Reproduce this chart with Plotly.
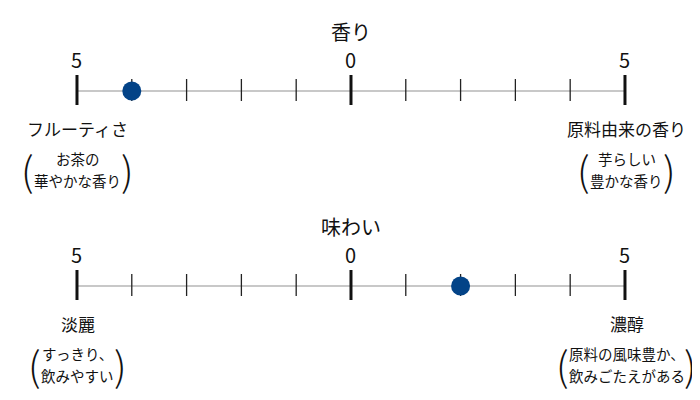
import plotly.graph_objects as go

# data
scales = ["香り", "味わい"]
scores = [-4, 2]
left_labels = ["フルーティさ", "淡麗"]
left_notes = [["お茶の", "華やかな香り"], ["すっきり、", "飲みやすい"]]
right_labels = ["原料由来の香り", "濃醇"]
right_notes = [["芋らしい", "豊かな香り"], ["原料の風味豊か、", "飲みごたえがある"]]
tick_vals = [-5, -4, -3, -2, -1, 0, 1, 2, 3, 4, 5]
major_vals = [-5, 0, 5]
major_text = ["5", "0", "5"]

FONT = "Noto Sans CJK JP"
row_y = [91, 286]
DOT = "#034387"

fig = go.Figure()
ann = []

for i, name in enumerate(scales):
    y0 = row_y[i]
    # base line
    fig.add_trace(go.Scatter(x=[tick_vals[0], tick_vals[-1]], y=[y0, y0], mode="lines",
                             line=dict(color="#c8c8c8", width=2), hoverinfo="skip"))
    # minor ticks
    mx, my = [], []
    for v in tick_vals:
        if v in major_vals:
            continue
        mx += [v, v, None]
        my += [y0 - 12, y0 + 10, None]
    fig.add_trace(go.Scatter(x=mx, y=my, mode="lines",
                             line=dict(color="#222", width=1.3), hoverinfo="skip"))
    # major ticks
    Mx, My = [], []
    for v in major_vals:
        Mx += [v, v, None]
        My += [y0 - 16, y0 + 14, None]
    fig.add_trace(go.Scatter(x=Mx, y=My, mode="lines",
                             line=dict(color="#111", width=3), hoverinfo="skip"))
    # score
    fig.add_trace(go.Scatter(x=[scores[i]], y=[y0], mode="markers",
                             marker=dict(color=DOT, size=19), hoverinfo="skip"))

    ann.append(dict(x=0, y=y0 - 60, text=name, font=dict(size=20)))
    for v, t in zip(major_vals, major_text):
        ann.append(dict(x=v, y=y0 - 32, text=t, font=dict(size=20)))

    for side, lab, note, sh in ((-5, left_labels[i], left_notes[i], 1),
                                (5, right_labels[i], right_notes[i], 2)):
        ann.append(dict(x=side, y=y0 + 37, text=lab, xshift=sh, font=dict(size=17)))
        ann.append(dict(x=side, y=y0 + 67, text=note[0], xshift=sh, font=dict(size=14.5)))
        ann.append(dict(x=side, y=y0 + 89, text=note[1], xshift=sh, font=dict(size=14.5)))
        half = max(len(note[0]), len(note[1])) * 7 + 8
        for d, p in ((-1, "("), (1, ")")):
            ann.append(dict(x=side, y=y0 + 78, text=p, xshift=sh + d * half,
                            font=dict(size=40, weight=300)))

for a in ann:
    a.setdefault("showarrow", False)
    a["xref"] = "x"
    a["yref"] = "y"
    a["xanchor"] = "center"
    a["yanchor"] = "middle"
    f = a.get("font", {})
    f.setdefault("family", FONT)
    f.setdefault("color", "#111")
    a["font"] = f

# the page body has an 8px margin, so the ranges are shifted by 8px
fig.update_layout(
    width=700, height=400,
    margin=dict(l=0, r=0, t=0, b=0),
    plot_bgcolor="white", paper_bgcolor="white",
    showlegend=False,
    annotations=ann,
    xaxis=dict(range=[-6.259, 6.515], visible=False, fixedrange=True),
    yaxis=dict(range=[408, 8], visible=False, fixedrange=True),
)

fig.write_html("out.html")
